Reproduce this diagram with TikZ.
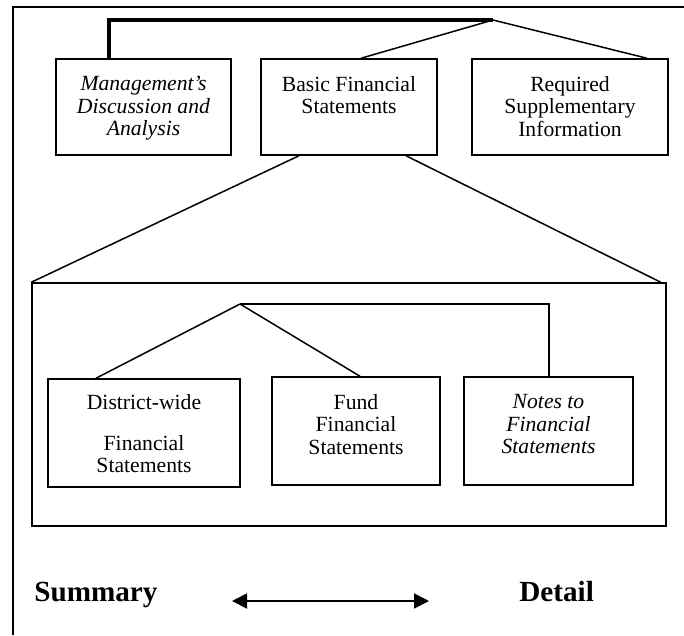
\documentclass[tikz,border=0pt]{standalone}
\usepackage{fontspec}
\setmainfont{Liberation Serif}
\usetikzlibrary{calc,arrows.meta}

\begin{document}
\begin{tikzpicture}[x=0.6pt, y=-0.6pt,
    box/.style={draw, line width=0.9pt, inner sep=0pt},
    txt/.style={align=center, anchor=north, inner sep=0pt,
        font=\fontsize{13}{13.4}\selectfont},
    link/.style={line width=0.9pt},
    big/.style={anchor=base west, inner sep=0pt,
        font=\fontsize{17.5}{20}\selectfont\bfseries}]
    \useasboundingbox (0,0) rectangle (684,635);
    \draw[line width=0.7pt] (684,7) -- (13,7) -- (13,635);

    % top row
    \node[box, minimum width=105pt, minimum height=57.6pt] (mda) at (143.5,107) {};
    \node[box, minimum width=105.6pt, minimum height=57.6pt] (bfs) at (349,107) {};
    \node[box, minimum width=117.6pt, minimum height=57.6pt] (rsi) at (570,107) {};
    \node[txt] (mdatxt) at ($(mda.north)+(0,18)$) {\itshape Management's\\ \itshape Discussion and\\ \itshape Analysis};
    \node[txt] (bfstxt) at ($(bfs.north)+(0,18)$) {Basic Financial\\ Statements};
    \node[txt] (rsitxt) at ($(rsi.north)+(0,18)$) {Required\\ Supplementary\\ Information};

    \coordinate (apex) at (493,20);
    \draw[line width=2pt] ($(mda.north)+(-34.5,0)$) |- (apex);
    \draw[link] (apex) -- ($(bfs.north)+(12,0)$);
    \draw[link] (apex) -- ($(rsi.north)+(77,0)$);

    % basic financial statements
    \node[box, minimum width=380.4pt, minimum height=145.8pt] (inner) at (349,404.5) {};
    \draw[link] ($(bfs.south)+(-50,0)$) -- (inner.north west);
    \draw[link] ($(bfs.south)+(57,0)$) -- ($(inner.north east)+(-6,0)$);

    \node[box, minimum width=115.2pt, minimum height=64.8pt] (dw) at (144,433) {};
    \node[box, minimum width=100.8pt, minimum height=64.8pt] (fund) at (356,431) {};
    \node[box, minimum width=101.4pt, minimum height=64.8pt] (notes) at (548.5,431) {};
    \node[txt] (dwtxt) at ($(dw.north)+(0,16)$) {District-wide\\[11pt] Financial\\ Statements};
    \node[txt] (fundtxt) at ($(fund.north)+(0,18)$) {Fund\\ Financial\\ Statements};
    \node[txt] (notestxt) at ($(notes.north)+(0,18)$) {\itshape Notes to\\ \itshape Financial\\ \itshape Statements};

    \coordinate (split) at (240,304);
    \draw[link] (split) -- ($(dw.north)+(-48,0)$);
    \draw[link] (split) -- ($(fund.north)+(4,0)$);
    \draw[line width=1.2pt] (split) -| (notes.north);

    % summary vs detail
    \node[big] (summary) at (34,601) {Summary};
    \node[big] (detail) at (519,601) {Detail};
    \coordinate (arrl) at (232,601);
    \coordinate (arrr) at (429,601);
    \draw[{Triangle[length=9pt,width=9pt]}-{Triangle[length=9pt,width=9pt]}, line width=1.1pt] (arrl) -- (arrr);
\end{tikzpicture}
\end{document}
